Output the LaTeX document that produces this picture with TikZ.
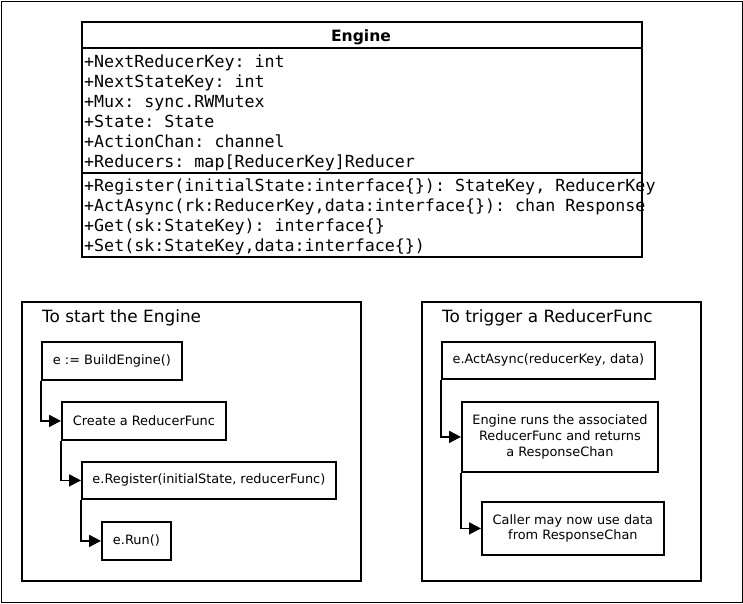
\documentclass[tikz,border=0pt]{standalone}
\usepackage{fontspec}
\setmainfont{DejaVu Sans}
\setmonofont{DejaVu Sans Mono}
\usetikzlibrary{arrows.meta}
\tikzset{
  frame/.style={draw=black, line width=1.8pt},
  stepbox/.style={draw=black, line width=1.8pt, inner sep=0pt, anchor=north west, font=\fontsize{12.9}{15.6}\selectfont, align=center},
  member/.style={anchor=base west, inner sep=0pt, font=\ttfamily\fontsize{16.65}{20}\selectfont},
  grouptitle/.style={anchor=base west, inner sep=0pt, font=\fontsize{16.9}{20}\selectfont},
  flow/.style={line width=1.8pt, -{Triangle[length=12pt,width=12pt]}},
}
\begin{document}
\begin{tikzpicture}[x=1pt,y=-1pt]
\useasboundingbox (0,0) rectangle (743,603);
\draw[line width=1pt] (1,1) rectangle (742,602);
% class box
\node[draw=black, line width=1.8pt, anchor=north west, minimum width=560pt, minimum height=235pt, inner sep=0pt] (engine) at (81,21) {};
\node[font=\bfseries\fontsize{15.6}{18}\selectfont, anchor=base, inner sep=0pt] (etitle) at (361,41) {Engine};
\draw[line width=1.8pt] (engine.west |- 0,48) -- (engine.east |- 0,48);
\draw[line width=1.8pt] (engine.west |- 0,173) -- (engine.east |- 0,173);
\node[member] (a1) at (84,67) {+NextReducerKey: int};
\node[member] (a2) at (84,87) {+NextStateKey: int};
\node[member] (a3) at (84,107) {+Mux: sync.RWMutex};
\node[member] (a4) at (84,127) {+State: State};
\node[member] (a5) at (84,147) {+ActionChan: channel};
\node[member] (a6) at (84,167) {+Reducers: map[ReducerKey]Reducer};
\node[member] (m1) at (84,191) {+Register(initialState:interface\{\}): StateKey, ReducerKey};
\node[member] (m2) at (84,211) {+ActAsync(rk:ReducerKey,data:interface\{\}): chan Response};
\node[member] (m3) at (84,231) {+Get(sk:StateKey): interface\{\}};
\node[member] (m4) at (84,251) {+Set(sk:StateKey,data:interface\{\})};
% left group
\node[frame, anchor=north west, minimum width=339pt, minimum height=279pt, inner sep=0pt] (g1) at (21,301) {};
\node[grouptitle] (g1t) at (42,322) {To start the Engine};
\node[stepbox, minimum width=140pt, minimum height=38pt] (b1) at (41,341) {e := BuildEngine()};
\node[stepbox, minimum width=164pt, minimum height=38pt] (b2) at (61,401) {Create a ReducerFunc};
\node[stepbox, minimum width=254pt, minimum height=37pt] (b3) at (81,461) {e.Register(initialState, reducerFunc)};
\node[stepbox, minimum width=69pt, minimum height=38pt] (b4) at (101,521) {e.Run()};
\draw[flow] (b1.south west) |- (b2.west);
\draw[flow] (b2.south west) |- (b3.west);
\draw[flow] (b3.south west) |- (b4.west);
% right group
\node[frame, anchor=north west, minimum width=279pt, minimum height=279pt, inner sep=0pt] (g2) at (421,301) {};
\node[grouptitle] (g2t) at (442,322) {To trigger a ReducerFunc};
\node[stepbox, minimum width=213pt, minimum height=37pt] (c1) at (441,341) {e.ActAsync(reducerKey, data)};
\node[stepbox, minimum width=196pt, minimum height=70pt] (c2) at (461,401) {Engine runs the associated\\ReducerFunc and returns\\a ResponseChan};
\node[stepbox, minimum width=182pt, minimum height=53pt] (c3) at (481,501) {Caller may now use data\\from ResponseChan};
\draw[flow] (c1.south west) |- (c2.west);
\draw[flow] (c2.south west) |- (c3.west);
\end{tikzpicture}
\end{document}
